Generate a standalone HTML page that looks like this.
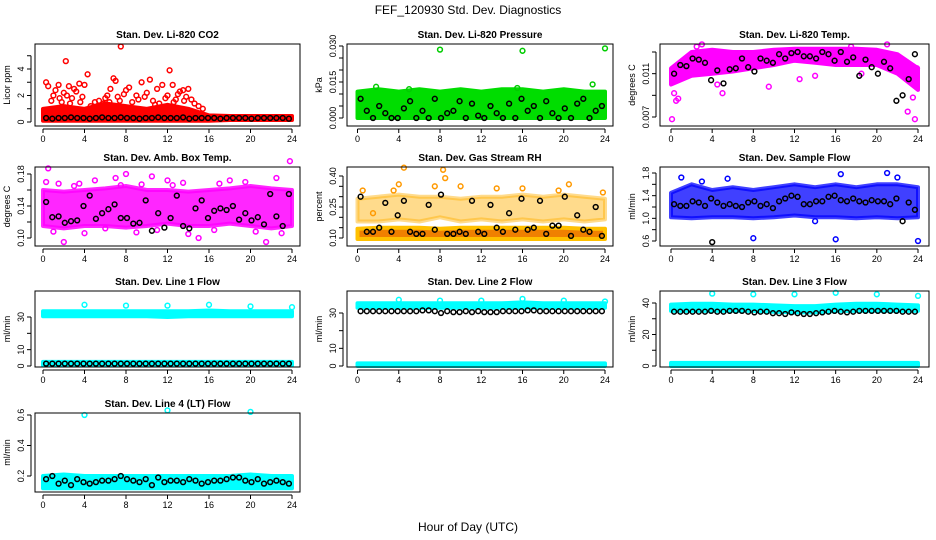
<!DOCTYPE html>
<html><head><meta charset="utf-8"><style>
body{margin:0;background:#fff;}
svg{display:block;font-family:"Liberation Sans",sans-serif;}
</style></head><body>
<svg id="chart" width="936" height="540" viewBox="0 0 936 540">
<text x="468" y="14" text-anchor="middle" font-size="12">FEF_120930  Std. Dev. Diagnostics</text>
<text x="468" y="531" text-anchor="middle" font-size="12">Hour of Day (UTC)</text>
</svg>
<script>
const xTicks=[0,4,8,12,16,20,24];
const bandHours=[0,2,4,6,8,10,12,14,16,18,20,22,24];
const blackHours=[0.3,0.9,1.5,2.1,2.7,3.3,3.9,4.5,5.1,5.7,6.3,6.9,7.5,8.1,8.7,9.3,9.9,10.5,11.1,11.7,12.3,12.9,13.5,14.1,14.7,15.3,15.9,16.5,17.1,17.7,18.3,18.9,19.5,20.1,20.7,21.3,21.9,22.5,23.1,23.7];

// Panel 1 CO2
const co2BandLow=[0.1,0.1,0.1,0.1,0.1,0.1,0.1,0.1,0.1,0.15,0.15,0.15,0.15];
const co2BandHigh=[1.0,1.2,1.0,1.4,1.2,1.0,1.3,1.0,0.5,0.45,0.45,0.45,0.45];
const co2PtHours=[0.3,0.5,1,1.5,2,2.2,2.5,3,3.5,4,4.3,5,6,6.5,6.8,7,7.5,8,8.3,9,9.5,10,10.3,11,11.5,12,12.2,12.5,13,13.5,14,14.3,15,0.8,1.2,1.8,2.3,2.8,3.2,3.8,4.6,5.4,5.8,6.2,7.2,7.8,8.6,9.2,9.8,10.6,11.2,11.8,12.8,13.2,13.8,14.6,15.4,1.6,2.6,3.6,6.4,7.4,10.8,12.6,13.6];
const co2PtVals=[3,2.7,2,2.8,2.2,4.6,2.7,2.5,2.9,2.8,3.6,1.5,1.8,2.5,3.3,3.1,5.7,2.4,2.6,2,3,2.2,3.2,2.5,2.8,2,3.9,2.8,2.1,2.4,2.5,1.7,1.2,1.6,2.4,1.5,2.0,1.8,2.3,1.9,1.2,1.6,1.4,2.0,1.9,2.1,1.5,1.7,1.9,1.6,1.4,1.8,1.7,2.3,1.9,1.4,1.0,1.8,1.4,1.5,1.5,1.6,1.3,1.5,1.6];
const co2Black=[0.3,0.25,0.3,0.3,0.35,0.3,0.3,0.25,0.3,0.35,0.3,0.3,0.35,0.3,0.3,0.25,0.3,0.3,0.35,0.3,0.3,0.3,0.35,0.25,0.3,0.3,0.3,0.3,0.25,0.3,0.3,0.3,0.3,0.25,0.3,0.3,0.3,0.3,0.3,0.25];
// Panel 2 Pressure
const presBandLow=[0,0,0,0,0,0,0,0,0,0,0,0,0];
const presBandHigh=[0.011,0.012,0.011,0.012,0.011,0.012,0.011,0.012,0.012,0.011,0.012,0.011,0.011];
const presPtHours=[8,16,24,22.8,1.8,5,15.5];
const presPtVals=[0.0285,0.028,0.029,0.014,0.013,0.012,0.0125];
const presBlack=[0.008,0.003,0.0,0.005,0.002,0.0,0.0,0.004,0.007,0.0,0.003,0.0,0.008,0.0,0.002,0.003,0.007,0.0,0.006,0.001,0.0,0.005,0.002,0.0,0.006,0.0,0.008,0.003,0.005,0.0,0.007,0.002,0.0,0.004,0.0,0.006,0.008,0.0,0.003,0.005];
// Panel 3 Temp
const tempBandLow=[0.0100,0.0108,0.0110,0.0112,0.0115,0.0118,0.0122,0.0120,0.0118,0.0118,0.0118,0.0110,0.0095];
const tempBandHigh=[0.0115,0.0130,0.0132,0.0130,0.0130,0.0132,0.0133,0.0133,0.0133,0.0133,0.0132,0.0128,0.0115];
const tempPtHours=[0.1,0.3,0.5,0.7,2.5,3,4.5,5,9.5,12.5,17.5,21,23,23.5,23.7,23.9,14,18.5];
const tempPtVals=[0.0068,0.0092,0.0085,0.0087,0.0135,0.0137,0.0100,0.0092,0.0098,0.0105,0.0135,0.0137,0.0075,0.0088,0.0068,0.0115,0.0108,0.0110];
const tempBlack=[0.0110,0.0118,0.0117,0.0124,0.0123,0.0120,0.0104,0.0113,0.0101,0.0114,0.0115,0.0124,0.0116,0.0112,0.0124,0.0122,0.0120,0.0128,0.0124,0.0129,0.0130,0.0126,0.0126,0.0124,0.0130,0.0128,0.0122,0.0130,0.0121,0.0125,0.0108,0.0123,0.0116,0.0110,0.0121,0.0115,0.0085,0.0090,0.0105,0.0128];
// Panel 4 Amb box temp
const ambBandLow=[0.115,0.112,0.115,0.115,0.113,0.115,0.118,0.115,0.115,0.118,0.115,0.112,0.115];
const ambBandHigh=[0.160,0.158,0.160,0.162,0.165,0.160,0.160,0.158,0.160,0.162,0.165,0.162,0.160];
const ambPtHours=[0.3,0.5,2,3.5,7,8,10.5,12,15,21.5,23.8,22.5,5,18,19.5,13.5,1,4,6,9,11,14,16.5,20.5,23,1.5,3,7.5,9.5,12.5,17];
const ambPtVals=[0.17,0.187,0.095,0.168,0.175,0.180,0.177,0.172,0.100,0.095,0.196,0.175,0.172,0.172,0.170,0.169,0.108,0.106,0.112,0.107,0.110,0.105,0.110,0.108,0.106,0.168,0.165,0.166,0.167,0.166,0.168];
const ambBlack=[0.145,0.126,0.127,0.119,0.121,0.122,0.14,0.153,0.124,0.131,0.136,0.142,0.125,0.125,0.118,0.119,0.147,0.109,0.131,0.113,0.125,0.153,0.115,0.112,0.137,0.147,0.125,0.134,0.137,0.135,0.14,0.123,0.131,0.122,0.126,0.117,0.155,0.127,0.115,0.155];
// Panel 5 RH
const rhBandLow=[0.095,0.095,0.095,0.095,0.095,0.095,0.095,0.095,0.095,0.095,0.095,0.095,0.095];
const rhBandHigh=[0.145,0.15,0.15,0.15,0.145,0.15,0.15,0.15,0.15,0.15,0.15,0.145,0.145];
const rhUpLow=[0.18,0.18,0.19,0.18,0.2,0.18,0.19,0.18,0.19,0.18,0.19,0.18,0.19];
const rhUpHigh=[0.29,0.3,0.31,0.3,0.3,0.29,0.3,0.3,0.31,0.3,0.31,0.3,0.29];
const rhPtHours=[0.5,3.5,4,4.5,7.5,8.3,8.5,10,13.5,19.5,20.5,23.8,1.5,16];
const rhPtVals=[0.33,0.33,0.36,0.44,0.35,0.43,0.39,0.35,0.34,0.33,0.36,0.32,0.22,0.34];
const rhBlack=[0.3,0.13,0.13,0.15,0.27,0.13,0.21,0.28,0.13,0.12,0.12,0.26,0.14,0.31,0.12,0.12,0.13,0.12,0.28,0.13,0.12,0.26,0.15,0.13,0.22,0.14,0.29,0.14,0.15,0.28,0.12,0.16,0.16,0.3,0.11,0.21,0.14,0.13,0.25,0.11];
// Panel 6 Sample flow
const sfBandLow=[1.02,1.0,1.02,1.02,1.0,1.02,1.05,1.02,1.02,1.0,1.02,1.0,1.02];
const sfBandHigh=[1.45,1.6,1.5,1.55,1.5,1.55,1.6,1.55,1.6,1.55,1.6,1.6,1.55];
const sfPtHours=[8,16,24,1,5.5,16.5,21,22,14,3];
const sfPtVals=[0.65,0.63,0.6,1.72,1.7,1.78,1.8,1.72,0.95,1.65];
const sfBlack=[1.25,1.22,1.22,1.3,1.28,1.22,1.35,1.28,1.22,1.25,1.22,1.2,1.28,1.3,1.22,1.25,1.18,1.3,1.35,1.4,1.38,1.25,1.25,1.3,1.3,1.38,1.4,1.32,1.3,1.35,1.3,1.28,1.32,1.3,1.3,1.25,1.35,0.95,1.28,1.15];
const sfBlackOutHours=[4];
const sfBlackOutVals=[0.58];
// Panel 7 Line 1
const l1BandLow=[30.5,30.5,30.5,30.5,30.5,30.5,30,30.5,30.5,30.5,30.5,30.5,30.5];
const l1BandHigh=[33.5,33.5,33.5,33.5,33.5,33.5,33.5,33.5,34,33.5,33.5,33.5,33.5];
const l1LowBandLow=[0.5,0.5,0.5,0.5,0.5,0.5,0.5,0.5,0.5,0.5,0.5,0.5,0.5];
const l1LowBandHigh=[2.5,2.5,2.5,2.5,2.5,2.5,2.5,2.5,2.5,2.5,2.5,2.5,2.5];
const l1PtHours=[4,8,12,16,20,24];
const l1PtVals=[37.5,37,37,37.5,36.5,36];
const l1Black=[1.5,1.5,1.5,1.5,1.5,1.5,1.5,1.5,1.5,1.5,1.5,1.5,1.5,1.5,1.5,1.5,1.5,1.5,1.5,1.5,1.5,1.5,1.5,1.5,1.5,1.5,1.5,1.5,1.5,1.5,1.5,1.5,1.5,1.5,1.5,1.5,1.5,1.5,1.5,1.5];
// Panel 8 Line 2
const l2BandLow=[33,33,33,33,33,33,33,33,33,33,33,33,33];
const l2BandHigh=[35.5,35.5,35.5,35.5,35.5,35.5,35.5,35.5,36,35.5,35.5,35.5,35.5];
const l2LowBandLow=[0,0,0,0,0,0,0,0,0,0,0,0,0];
const l2LowBandHigh=[1.5,1.5,1.5,1.5,1.5,1.5,1.5,1.5,1.5,1.5,1.5,1.5,1.5];
const l2PtHours=[4,8,12,16,20,24];
const l2PtVals=[37.5,37,37,38,37,36.5];
const l2Black=[31,31,31,31,31,31,31,31,31,31,31.5,31.5,31,30,31,30.5,30.5,31,30.5,31,30.5,30.5,30.5,31,31,31,31,31.5,31.5,31,31,31,31,31,31,31,31,31,31,31];
// Panel 9 Line 3
const l3BandLow=[35,35,35,35,35,34.5,34,34,35,35,35,35,35];
const l3BandHigh=[39,39.5,39.5,39,39,38.5,38,38,39,39.5,39.5,39,38.5];
const l3LowBandLow=[0,0,0,0,0,0,0,0,0,0,0,0,0];
const l3LowBandHigh=[2,2,2,2,2,2,2,2,2,2,2,2,2];
const l3PtHours=[4,8,12,16,20,24];
const l3PtVals=[46,45.5,45.5,46.5,45.5,44.5];
const l3Black=[34.5,34.5,34.5,34.5,34.5,34.5,35,34.5,34.5,35,35,35,34.5,34,34.5,34.5,33.5,33.5,33,34,33.5,33,33,33.5,34,34.5,35,34.5,34,34.5,35,35,35,35,35,35,35,34.5,34.5,34.5];
// Panel 10 Line 4
const l4BandLow=[0.12,0.12,0.12,0.12,0.12,0.12,0.12,0.12,0.12,0.12,0.12,0.12,0.12];
const l4BandHigh=[0.2,0.21,0.2,0.2,0.2,0.2,0.2,0.2,0.2,0.2,0.21,0.2,0.2];
const l4PtHours=[4,12,20];
const l4PtVals=[0.6,0.63,0.62];
const l4Black=[0.18,0.2,0.15,0.17,0.14,0.18,0.16,0.15,0.16,0.17,0.17,0.18,0.2,0.18,0.17,0.16,0.18,0.14,0.19,0.16,0.17,0.17,0.16,0.18,0.17,0.15,0.16,0.17,0.17,0.18,0.19,0.19,0.17,0.16,0.18,0.15,0.16,0.17,0.16,0.15];

const NS="http://www.w3.org/2000/svg";
const svg=document.getElementById('chart');
function mk(tag,attrs,parent){const e=document.createElementNS(NS,tag);for(const k in attrs)e.setAttribute(k,attrs[k]);(parent||svg).appendChild(e);return e;}

const cols=[{bl:35,br:300,x0:43,x1:292},{bl:347,br:613,x0:357.5,x1:605},{bl:660,br:929,x0:671,x1:918}];
const rows=[{top:44,bot:126},{top:167,bot:246},{top:291,bot:367},{top:413,bot:492}];

function panel(p){
  const c=cols[p.col], r=rows[p.row];
  const g=mk('g',{});
  
  
  const xs=h=>c.x0+(h/24)*(c.x1-c.x0);
  const ys=v=>p.ya[1]+(v-p.yv[0])/(p.yv[1]-p.yv[0])*(p.ya[2]-p.ya[1]);
  (p.bands||[]).forEach(b=>{
    let d='';
    bandHours.forEach((h,i)=>{d+=(i?'L':'M')+xs(h).toFixed(1)+' '+ys(b.hi[i]).toFixed(1);});
    for(let i=bandHours.length-1;i>=0;i--)d+='L'+xs(bandHours[i]).toFixed(1)+' '+ys(b.lo[i]).toFixed(1);
    const el=mk('path',{d:d+'Z',fill:b.fill,stroke:b.stroke||b.fill,'stroke-width':4,'stroke-linejoin':'round','fill-opacity':b.op||1,'stroke-opacity':b.op||1},g);
    
    
  });
  const dot=(h,v,col)=>{const el=mk('circle',{cx:xs(h).toFixed(1),cy:ys(v).toFixed(1),r:2.4,fill:'none',stroke:col,'stroke-width':1.5},g);
    
    };
  p.ptH.forEach((h,i)=>dot(h,p.ptV[i],p.color));
  blackHours.forEach((h,i)=>dot(h,p.black[i],'#000'));
  if(p.extraH)p.extraH.forEach((h,i)=>dot(h,p.extraV[i],'#000'));
  const box=mk('rect',{x:c.bl,y:r.top,width:c.br-c.bl,height:r.bot-r.top,fill:'none',stroke:'#000','stroke-width':1},g);
  
  
  const t=mk('text',{x:(c.bl+c.br)/2,y:r.top-6,'text-anchor':'middle','font-size':10,'font-weight':'bold'},g);
  t.textContent=p.title;
  
  
  const xa=mk('g',{},g);
  
  
  const ay=r.bot+3;
  mk('line',{x1:xs(0),x2:xs(24),y1:ay,y2:ay,stroke:'#000'},xa);
  xTicks.forEach(h=>{mk('line',{x1:xs(h),x2:xs(h),y1:ay,y2:ay+4,stroke:'#000'},xa);
    const l=mk('text',{x:xs(h),y:ay+13,'text-anchor':'middle','font-size':9},xa);l.textContent=h;
    
    });
  const ya=mk('g',{},g);
  
  
  const ax=c.bl-4;
  mk('line',{x1:ax,x2:ax,y1:ys(p.yt[0]),y2:ys(p.yt[p.yt.length-1]),stroke:'#000'},ya);
  p.yt.forEach(v=>mk('line',{x1:ax-4,x2:ax,y1:ys(v),y2:ys(v),stroke:'#000'},ya));
  p.yl.forEach((s,i)=>{const yy=ys(p.ylv[i]);const l=mk('text',{x:ax-7,y:yy,'text-anchor':'middle','font-size':9,transform:`rotate(-90 ${ax-7} ${yy})`},ya);l.textContent=s;
    
    });
  const yt=(r.top+r.bot)/2;
  const ylab=mk('text',{x:c.bl-25,y:yt,'text-anchor':'middle','font-size':9,transform:`rotate(-90 ${c.bl-25} ${yt})`},g);
  ylab.textContent=p.ylab;
  
  
}
const cyan='#00ffff';
panel({name:'co2-panel',col:0,row:0,title:'Stan. Dev. Li-820 CO2',ylab:'Licor ppm',yv:[0,4],ya:[0,122,69],yt:[0,1,2,3,4,5],yl:['0','2','4'],ylv:[0,2,4],
  bands:[{lo:co2BandLow,hi:co2BandHigh,fill:'#ff0000'}],color:'#ff0000',ptH:co2PtHours,ptV:co2PtVals,black:co2Black});
panel({name:'pressure-panel',col:1,row:0,title:'Stan. Dev. Li-820 Pressure',ylab:'kPa',yv:[0,0.03],ya:[0,118,46],yt:[0,0.005,0.01,0.015,0.02,0.025,0.03],yl:['0.000','0.015','0.030'],ylv:[0,0.015,0.03],
  bands:[{lo:presBandLow,hi:presBandHigh,fill:'#00dd00'}],color:'#00cc00',ptH:presPtHours,ptV:presPtVals,black:presBlack});
panel({name:'temp-panel',col:2,row:0,title:'Stan. Dev. Li-820 Temp.',ylab:'degrees C',yv:[0.007,0.013],ya:[0,117,52],yt:[0.007,0.009,0.011,0.013],yl:['0.007','0.011'],ylv:[0.007,0.011],
  bands:[{lo:tempBandLow,hi:tempBandHigh,fill:'#ff00ff'}],color:'#ff00ff',ptH:tempPtHours,ptV:tempPtVals,black:tempBlack});
panel({name:'amb-box-temp-panel',col:0,row:1,title:'Stan. Dev. Amb. Box Temp.',ylab:'degrees C',yv:[0.10,0.18],ya:[0,238,174],yt:[0.10,0.12,0.14,0.16,0.18],yl:['0.10','0.14','0.18'],ylv:[0.10,0.14,0.18],
  bands:[{lo:ambBandLow,hi:ambBandHigh,fill:'#ff00ff',op:0.85}],color:'#ff00ff',ptH:ambPtHours,ptV:ambPtVals,black:ambBlack});
panel({name:'rh-panel',col:1,row:1,title:'Stan. Dev. Gas Stream RH',ylab:'percent',yv:[0.10,0.40],ya:[0,238,176],yt:[0.10,0.15,0.20,0.25,0.30,0.35,0.40],yl:['0.10','0.25','0.40'],ylv:[0.10,0.25,0.40],
  bands:[{lo:rhUpLow,hi:rhUpHigh,fill:'#ffb000',op:0.45},{lo:rhBandLow,hi:rhBandHigh,fill:'#f08000',stroke:'#ffc000'}],color:'#ff9900',ptH:rhPtHours,ptV:rhPtVals,black:rhBlack});
panel({name:'sample-flow-panel',col:2,row:1,title:'Stan. Dev. Sample Flow',ylab:'ml/min',yv:[0.6,1.8],ya:[0,241,173],yt:[0.6,0.8,1.0,1.2,1.4,1.6,1.8],yl:['0.6','1.0','1.4','1.8'],ylv:[0.6,1.0,1.4,1.8],
  bands:[{lo:sfBandLow,hi:sfBandHigh,fill:'#0000ff',op:0.75}],color:'#0000ff',ptH:sfPtHours,ptV:sfPtVals,black:sfBlack,extraH:sfBlackOutHours,extraV:sfBlackOutVals});
panel({name:'line1-flow-panel',col:0,row:2,title:'Stan. Dev. Line 1 Flow',ylab:'ml/min',yv:[0,30],ya:[0,366,317],yt:[0,10,20,30],yl:['0','10','30'],ylv:[0,10,30],
  bands:[{lo:l1BandLow,hi:l1BandHigh,fill:cyan},{lo:l1LowBandLow,hi:l1LowBandHigh,fill:cyan}],color:cyan,ptH:l1PtHours,ptV:l1PtVals,black:l1Black});
panel({name:'line2-flow-panel',col:1,row:2,title:'Stan. Dev. Line 2 Flow',ylab:'ml/min',yv:[0,30],ya:[0,366,313],yt:[0,10,20,30],yl:['0','10','30'],ylv:[0,10,30],
  bands:[{lo:l2BandLow,hi:l2BandHigh,fill:cyan},{lo:l2LowBandLow,hi:l2LowBandHigh,fill:cyan}],color:cyan,ptH:l2PtHours,ptV:l2PtVals,black:l2Black});
panel({name:'line3-flow-panel',col:2,row:2,title:'Stan. Dev. Line 3 Flow',ylab:'ml/min',yv:[0,40],ya:[0,366,303],yt:[0,10,20,30,40],yl:['0','20','40'],ylv:[0,20,40],
  bands:[{lo:l3BandLow,hi:l3BandHigh,fill:cyan},{lo:l3LowBandLow,hi:l3LowBandHigh,fill:cyan}],color:cyan,ptH:l3PtHours,ptV:l3PtVals,black:l3Black});
panel({name:'line4-flow-panel',col:0,row:3,title:'Stan. Dev. Line 4 (LT) Flow',ylab:'ml/min',yv:[0.2,0.6],ya:[0,476,415],yt:[0.2,0.4,0.6],yl:['0.2','0.4','0.6'],ylv:[0.2,0.4,0.6],
  bands:[{lo:l4BandLow,hi:l4BandHigh,fill:cyan}],color:cyan,ptH:l4PtHours,ptV:l4PtVals,black:l4Black});
</script>
</body></html>
